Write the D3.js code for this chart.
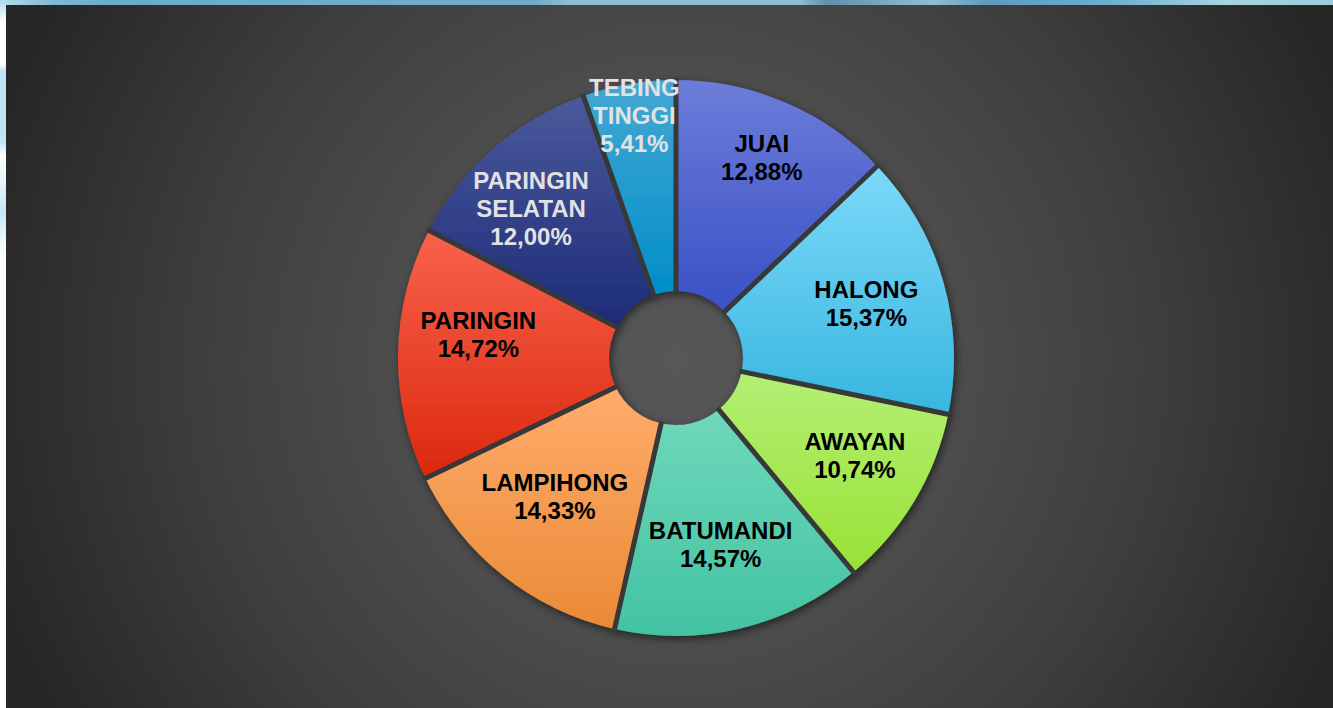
<!DOCTYPE html>
<html>
<head>
<meta charset="utf-8">
<script src="https://cdn.jsdelivr.net/npm/d3@7"></script>
<style>
  html, body { margin: 0; padding: 0; background: #ffffff; }
  svg { display: block; }
</style>
</head>
<body>
<div id="chart"></div>
<script>
// data
var kecamatan = ["JUAI", "HALONG", "AWAYAN", "BATUMANDI", "LAMPIHONG", "PARINGIN", "PARINGIN SELATAN", "TEBING TINGGI"];
var persen = [12.88, 15.37, 10.74, 14.57, 14.33, 14.72, 12.00, 5.41];
var labelLines = [["JUAI"], ["HALONG"], ["AWAYAN"], ["BATUMANDI"], ["LAMPIHONG"], ["PARINGIN"], ["PARINGIN", "SELATAN"], ["TEBING", "TINGGI"]];

// slice colours, top -> bottom of each slice
var warnaAtas = ["#6c7dd9", "#7cd9f9", "#b4ef74", "#70d8bb", "#ffac6c", "#f8624c", "#4b5a9c", "#45a8d2"];
var warnaBawah = ["#3a50c6", "#38b6e0", "#98e236", "#42c3a2", "#ea8a36", "#dc280e", "#1c2b78", "#008ec8"];
var warnaTeks = ["#000", "#000", "#000", "#000", "#000", "#000", "#e2e2e2", "#e2e2e2"];

// label placement: distance from centre and small angle nudge in degrees (layout only)
var labelPos = {
    "JUAI": [218, 0], "HALONG": [198, 0], "AWAYAN": [204, -2.3], "BATUMANDI": [192, 0],
    "LAMPIHONG": [184, 2.6], "PARINGIN": [199, 5.9], "PARINGIN SELATAN": [208, -3.1], "TEBING TINGGI": [246, 0]
};

var width = 1333, height = 708;
var cx = 676, cy = 358;
var rIn = 67, rOut = 278;

var svg = d3.select("#chart").append("svg")
    .attr("width", width)
    .attr("height", height);

var defs = svg.append("defs");

// page background gradient
var bg = defs.append("radialGradient")
    .attr("id", "bgGrad")
    .attr("gradientUnits", "userSpaceOnUse")
    .attr("cx", cx).attr("cy", 360).attr("r", 720);
[[0, "#575757"], [0.4, "#4c4c4c"], [0.66, "#3e3e3e"], [0.93, "#2b2b2b"], [1, "#262626"]].forEach(function (s) {
    bg.append("stop").attr("offset", s[0]).attr("stop-color", s[1]);
});

var topBand = defs.append("linearGradient").attr("id", "topBand");
[[0, "#b6dcea"], [0.04, "#7fb8d4"], [0.08, "#6aaccd"], [0.4, "#70acc8"], [0.43, "#8cbfcf"], [0.6, "#8cbfcf"],
 [0.62, "#5e90ad"], [0.7, "#8fbfd0"], [0.74, "#5e9ac0"], [0.83, "#6aaed0"], [0.92, "#a8d4e0"], [1, "#9ccbdc"]].forEach(function (s) {
    topBand.append("stop").attr("offset", s[0]).attr("stop-color", s[1]);
});

var sideBand = defs.append("linearGradient").attr("id", "sideBand")
    .attr("x1", 0).attr("y1", 0).attr("x2", 0).attr("y2", 1);
[[0, "#a8d8ec"], [0.03, "#ffffff"], [0.09, "#ffffff"], [0.1, "#bfe4f4"], [0.2, "#bfe4f4"], [0.22, "#ffffff"],
 [0.3, "#c6e8f6"], [0.36, "#ffffff"], [1, "#ffffff"]].forEach(function (s) {
    sideBand.append("stop").attr("offset", s[0]).attr("stop-color", s[1]);
});

// slice gradients
persen.forEach(function (p, i) {
    var g = defs.append("linearGradient")
        .attr("id", "slice" + i)
        .attr("x1", 0).attr("y1", 0).attr("x2", 0).attr("y2", 1);
    g.append("stop").attr("offset", 0).attr("stop-color", warnaAtas[i]);
    g.append("stop").attr("offset", 1).attr("stop-color", warnaBawah[i]);
});

var shadow = defs.append("filter").attr("id", "shadow")
    .attr("x", "-20%").attr("y", "-20%").attr("width", "140%").attr("height", "140%");
shadow.append("feDropShadow")
    .attr("dx", 2).attr("dy", 3)
    .attr("stdDeviation", 4)
    .attr("flood-color", "#000")
    .attr("flood-opacity", 0.55);

svg.append("rect").attr("width", width).attr("height", height).attr("fill", "url(#topBand)");
svg.append("rect").attr("width", 6).attr("height", height).attr("fill", "url(#sideBand)");
svg.append("rect")
    .attr("x", 6).attr("y", 5)
    .attr("width", width - 6).attr("height", height - 5)
    .attr("fill", "url(#bgGrad)");

var pie = d3.pie().sort(null).value(function (d) { return d; });
var arcs = pie(persen);

var arc = d3.arc().innerRadius(rIn).outerRadius(rOut);

var g = svg.append("g")
    .attr("transform", "translate(" + cx + "," + cy + ")");

var donut = g.append("g").attr("filter", "url(#shadow)");

donut.selectAll("path")
    .data(arcs)
    .enter()
    .append("path")
    .attr("d", arc)
    .attr("fill", function (d, i) { return "url(#slice" + i + ")"; });

// dark gaps between slices
donut.selectAll("line")
    .data(arcs)
    .enter()
    .append("line")
    .attr("x1", function (d) { return Math.sin(d.startAngle) * (rIn - 2); })
    .attr("y1", function (d) { return -Math.cos(d.startAngle) * (rIn - 2); })
    .attr("x2", function (d) { return Math.sin(d.startAngle) * (rOut + 2); })
    .attr("y2", function (d) { return -Math.cos(d.startAngle) * (rOut + 2); })
    .attr("stroke", "#383838")
    .attr("stroke-width", 5);

var fmt = function (v) { return v.toFixed(2).replace(".", ",") + "%"; };
var lineH = 28;

var labels = g.selectAll("text.lbl")
    .data(arcs)
    .enter()
    .append("text")
    .attr("class", "lbl")
    .attr("text-anchor", "middle")
    .attr("font-family", "'Liberation Sans', Arial, sans-serif")
    .attr("font-weight", "bold")
    .attr("font-size", 24)
    .attr("fill", function (d, i) { return warnaTeks[i]; })
    .attr("transform", function (d, i) {
        var p = labelPos[kecamatan[i]];
        var a = (d.startAngle + d.endAngle) / 2 + p[1] * Math.PI / 180;
        return "translate(" + (Math.sin(a) * p[0]) + "," + (-Math.cos(a) * p[0]) + ")";
    });

labels.each(function (d, i) {
    var lines = labelLines[i].concat([fmt(persen[i])]);
    var t = d3.select(this);
    var y0 = -(lines.length - 1) * lineH / 2 + 8.5;
    lines.forEach(function (ln, k) {
        t.append("tspan")
            .attr("x", 0)
            .attr("y", y0 + k * lineH)
            .text(ln);
    });
});
</script>
</body>
</html>
